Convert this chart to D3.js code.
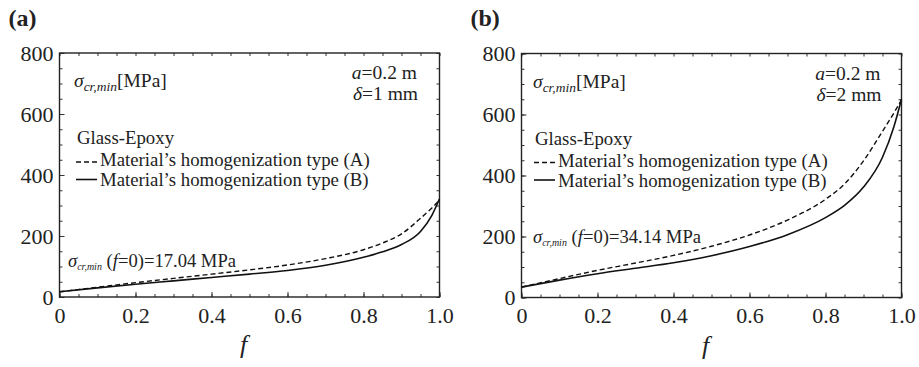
<!DOCTYPE html>
<html>
<head>
<meta charset="utf-8">
<script src="https://cdn.jsdelivr.net/npm/d3@7"></script>
<style>
  body { margin: 0; background: #fff; }
  svg text { font-family: "Liberation Serif", "Times New Roman", serif; fill: #222; }
</style>
</head>
<body>
<svg id="fig" width="919" height="367"></svg>
<script>

// volume fraction f
const fValues = [0, 0.1, 0.2, 0.3, 0.4, 0.5, 0.6, 0.7, 0.8, 0.85, 0.9, 0.95, 0.98, 1.0];

// (a) delta = 1 mm
const sigmaA_d1 = [17, 32, 47, 61, 75, 89, 105, 126, 155, 177, 207, 258, 292, 318];
const sigmaB_d1 = [17, 30, 42, 53, 64, 75, 87, 104, 130, 148, 172, 215, 268, 322];

// (b) delta = 2 mm
const sigmaA_d2 = [34, 62, 89, 113, 138, 168, 205, 254, 322, 372, 448, 545, 605, 648];
const sigmaB_d2 = [34, 57, 78, 96, 114, 137, 167, 206, 262, 302, 362, 460, 560, 650];

const xTicks = [0, 0.2, 0.4, 0.6, 0.8, 1.0];
const xTickLabels = ["0", "0.2", "0.4", "0.6", "0.8", "1.0"];
const yTicks = [0, 200, 400, 600, 800];

const legendTitle = "Glass-Epoxy";
const legendA = "Material\u2019s homogenization type (A)";
const legendB = "Material\u2019s homogenization type (B)";

const W = 380, H = 244;
const SERIF = "Liberation Serif, Times New Roman, serif";

function panel(svg, o) {

    let g = svg.append("g")
        .attr("transform", "translate(" + o.left + "," + o.top + ")");

    let x = d3.scaleLinear().domain([0, 1]).range([0, W]);
    let y = d3.scaleLinear().domain([0, 800]).range([H, 0]);

    // minor ticks on all four sides, pointing in
    let minX = d3.range(0, 1.0001, 0.05);
    let minY = d3.range(0, 800.1, 50);
    g.append("g").attr("transform", "translate(0," + H + ")")
        .call(d3.axisBottom(x).tickValues(minX).tickSize(-3).tickFormat(""));
    g.append("g")
        .call(d3.axisTop(x).tickValues(minX).tickSize(-3).tickFormat(""));
    g.append("g")
        .call(d3.axisLeft(y).tickValues(minY).tickSize(-3).tickFormat(""));
    g.append("g").attr("transform", "translate(" + W + ",0)")
        .call(d3.axisRight(y).tickValues(minY).tickSize(-3).tickFormat(""));

    // major ticks + labels
    g.append("g").attr("transform", "translate(0," + H + ")")
        .call(d3.axisBottom(x).tickValues(xTicks).tickSize(-5).tickPadding(10)
            .tickFormat((d, i) => xTickLabels[i]))
        .attr("font-family", SERIF)
        .selectAll("text").style("font-size", "22px");
    g.append("g")
        .call(d3.axisLeft(y).tickValues(yTicks).tickSize(-5).tickPadding(6))
        .attr("font-family", SERIF)
        .selectAll("text").style("font-size", "22px");

    g.selectAll(".domain").remove();
    g.selectAll(".tick line").attr("stroke", "#333").attr("stroke-width", 1);
    g.selectAll(".tick text").attr("fill", "#222");

    // frame
    g.append("rect")
        .attr("width", W).attr("height", H)
        .attr("fill", "none").attr("stroke", "#222").attr("stroke-width", 1.4);

    let line = d3.line()
        .x((d, i) => x(fValues[i]))
        .y(d => y(d))
        .curve(d3.curveMonotoneX);

    g.append("path").datum(o.a)
        .attr("d", line).attr("fill", "none")
        .attr("stroke", "#111").attr("stroke-width", 1.4)
        .attr("stroke-dasharray", "5,3");
    g.append("path").datum(o.b)
        .attr("d", line).attr("fill", "none")
        .attr("stroke", "#111").attr("stroke-width", 1.6);

    // y quantity label
    let h = g.append("text").attr("x", o.hx).attr("y", 34).style("font-size", "19.5px");
    h.append("tspan").style("font-style", "italic").text("\u03c3");
    h.append("tspan").style("font-style", "italic").style("font-size", "13.5px")
        .attr("dy", 4).text("cr,min");
    h.append("tspan").attr("dy", -4).text("[MPa]");

    // geometry
    g.append("text").attr("x", o.rx).attr("y", 26).attr("text-anchor", "end")
        .style("font-size", "19.5px")
        .html('<tspan font-style="italic">a</tspan>=0.2 m');
    g.append("text").attr("x", o.rx + 1).attr("y", 47).attr("text-anchor", "end")
        .style("font-size", "19.5px")
        .html('<tspan font-style="italic">\u03b4</tspan>=' + o.delta + ' mm');

    // legend
    g.append("text").attr("x", o.lx + 1).attr("y", 91)
        .style("font-size", "18.8px").text(legendTitle);
    g.append("line").attr("x1", o.lx).attr("x2", o.lx + 21)
        .attr("y1", 109).attr("y2", 109)
        .attr("stroke", "#111").attr("stroke-width", 1.3).attr("stroke-dasharray", "5,3");
    g.append("text").attr("x", o.lx + 24).attr("y", 113)
        .style("font-size", "18.8px").text(legendA);
    g.append("line").attr("x1", o.lx).attr("x2", o.lx + 21)
        .attr("y1", 126.5).attr("y2", 126.5)
        .attr("stroke", "#111").attr("stroke-width", 1.6);
    g.append("text").attr("x", o.lx + 24).attr("y", 133)
        .style("font-size", "18.8px").text(legendB);

    // value at f = 0
    let s = g.append("text").attr("x", o.sx).attr("y", o.sy).style("font-size", "18.6px");
    s.append("tspan").style("font-style", "italic").text("\u03c3");
    s.append("tspan").style("font-style", "italic").style("font-size", "10px")
        .attr("dy", 3).text("cr,min");
    s.append("tspan").attr("dy", -3).text(" (");
    s.append("tspan").style("font-style", "italic").text("f");
    s.append("tspan").text("=0)=" + o.sigma0 + " MPa");

    // x label
    g.append("text").attr("x", 184).attr("y", 300).attr("text-anchor", "middle")
        .style("font-size", "26px").style("font-style", "italic").text("f");

    // panel letter
    svg.append("text").attr("x", o.left - 51).attr("y", 26)
        .style("font-size", "24px").style("font-weight", "bold").text(o.letter);
}

let svg = d3.select("#fig");

panel(svg, { left: 59.5, top: 53, a: sigmaA_d1, b: sigmaB_d1, delta: 1, sigma0: "17.04",
    letter: "(a)", hx: 14.5, rx: 357.5, lx: 16.5, sx: 8.5, sy: 214 });
panel(svg, { left: 521.5, top: 53.5, a: sigmaA_d2, b: sigmaB_d2, delta: 2, sigma0: "34.14",
    letter: "(b)", hx: 11.5, rx: 359, lx: 12.5, sx: 11.5, sy: 189 });

</script>
</body>
</html>
